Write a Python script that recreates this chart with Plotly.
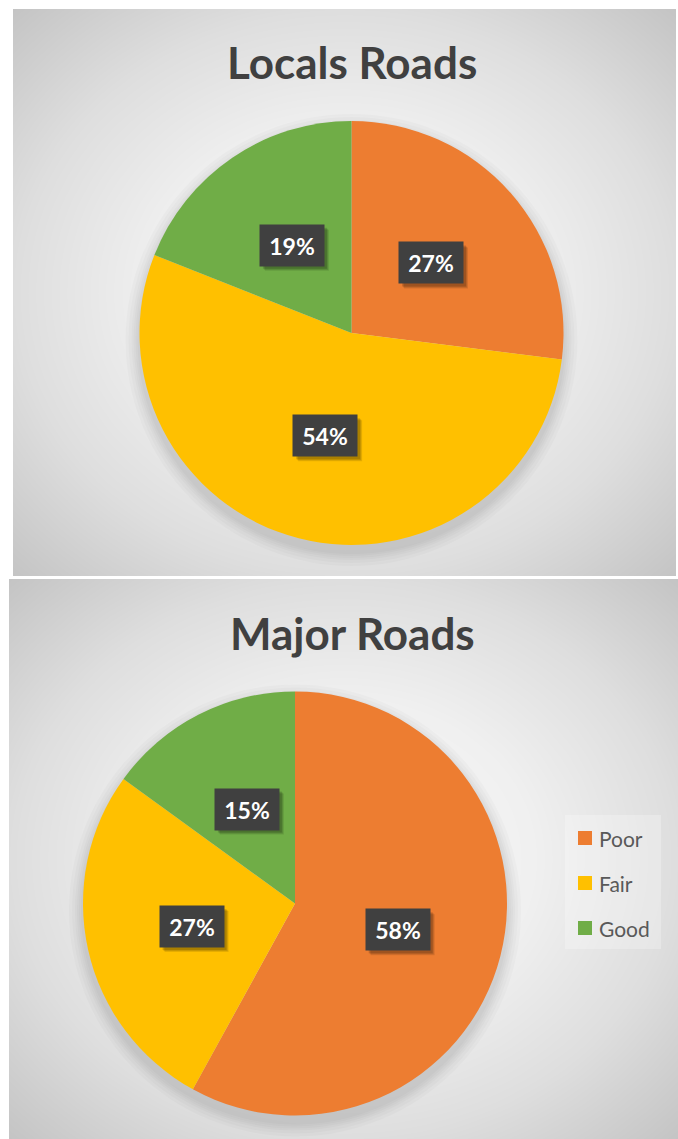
import numpy as np
import plotly.graph_objects as go

# ---------------- data ----------------
categories = ["Poor", "Fair", "Good"]
local_values = [27, 54, 19]
major_values = [58, 27, 15]
chart_titles = ["Locals Roads", "Major Roads"]
slice_colors = ["#ED7D31", "#FFC000", "#70AD47"]

# ---------------- layout constants (pixels) ----------------
W, H = 678, 1139
panels = [  # x0, y0, x1, y1 in px (top-left origin)
    (13, 9, 676, 576),
    (9, 579, 678, 1139),
]
pie_centers = [(351.5, 333.0), (295.0, 903.5)]
pie_radius = 212.0
title_pos = [(352, 62), (352, 633)]


def px(x):
    return x / W


def py(y):
    return 1 - y / H


fig = go.Figure()

# --- panel backgrounds: radial gradient via heatmap ---
grid = np.linspace(0, 1, 61)
gx, gy = np.meshgrid(grid, grid)
zgrad = np.sqrt(((gx - 0.5) / 0.5) ** 2 + ((gy - 0.5) / 0.5) ** 2) / np.sqrt(2)
grad_scale = [[0, "#f8f8f8"], [0.4, "#f0f0f0"], [0.7, "#dedede"], [1, "#c4c4c4"]]
for i, (x0, y0, x1, y1) in enumerate(panels):
    ax = "" if i == 0 else str(i + 1)
    fig.add_trace(go.Heatmap(x=grid, y=grid, z=zgrad, zmin=0, zmax=1, colorscale=grad_scale,
                             showscale=False, zsmooth="best", hoverinfo="skip",
                             xaxis="x" + ax, yaxis="y" + ax))
    fig.update_layout(**{
        "xaxis" + ax: dict(domain=[px(x0), px(x1)], range=[0, 1], visible=False, fixedrange=True),
        "yaxis" + ax: dict(domain=[py(y1), py(y0)], range=[0, 1], visible=False, fixedrange=True),
    })

# --- pies ---
annotations = []
shapes = []
for i, vals in enumerate([local_values, major_values]):
    cx, cy = pie_centers[i]
    R = pie_radius
    # soft blurred shadow under pie
    for grow in [14, 11, 8, 6, 4, 2]:
        off = 7
        fig.add_trace(go.Pie(values=[1], marker=dict(colors=["rgba(0,0,0,0.018)"], line=dict(width=0)),
                             textinfo="none", hoverinfo="skip", showlegend=False, sort=False,
                             domain=dict(x=[px(cx - R - grow), px(cx + R + grow)],
                                         y=[py(cy + off + R + grow), py(cy + off - R - grow)])))
    fig.add_trace(go.Pie(
        labels=categories, values=vals, sort=False, direction="clockwise", rotation=0,
        marker=dict(colors=slice_colors, line=dict(width=0)),
        textinfo="none", showlegend=False,
        domain=dict(x=[px(cx - R), px(cx + R)], y=[py(cy + R), py(cy - R)]),
    ))
    total = float(sum(vals))
    cum = 0.0
    for v in vals:
        mid = (cum + v / 2) / total * 2 * np.pi
        cum += v
        lx = cx + 0.5 * R * np.sin(mid)
        ly = cy - 0.5 * R * np.cos(mid)
        txt = f"{round(v / total * 100)}%"
        # box shadow
        for s, a in [(5, 0.10), (4, 0.12), (3, 0.15)]:
            shapes.append(dict(type="rect", xref="paper", yref="paper", layer="above",
                               x0=px(lx - 32 + s), x1=px(lx + 32 + s), y0=py(ly + 20.5 + s), y1=py(ly - 20.5 + s),
                               fillcolor=f"rgba(0,0,0,{a})", line=dict(width=0)))
        annotations.append(dict(text=txt, x=px(lx), y=py(ly), xref="paper", yref="paper", showarrow=False,
                                xanchor="center", yanchor="middle", width=56, height=33, borderpad=4,
                                bgcolor="#404040",
                                font=dict(family="Lato", size=23, color="white", weight="bold")))

# --- titles ---
for (tx, ty), t in zip(title_pos, chart_titles):
    annotations.append(dict(text=t, x=px(tx), y=py(ty), xref="paper", yref="paper",
                            showarrow=False, xanchor="center", yanchor="middle",
                            font=dict(family="Lato", size=44, color="#404040", weight="bold")))

# --- legend (bottom panel) ---
shapes.append(dict(type="rect", xref="paper", yref="paper", x0=px(565), x1=px(661), y0=py(949), y1=py(815),
                   fillcolor="rgba(255,255,255,0.25)", line=dict(width=0), layer="above"))
leg_y = [838, 883, 928]
for c, lab, yy in zip(slice_colors, categories, leg_y):
    shapes.append(dict(type="rect", xref="paper", yref="paper", x0=px(578), x1=px(592),
                       y0=py(yy + 7), y1=py(yy - 7), fillcolor=c, line=dict(width=0), layer="above"))
    annotations.append(dict(text=lab, x=px(597), y=py(yy), xref="paper", yref="paper", showarrow=False,
                            xanchor="left", yanchor="middle",
                            font=dict(family="Lato", size=21, color="#595959")))

fig.update_layout(width=W, height=H, margin=dict(l=0, r=0, t=0, b=0),
                  paper_bgcolor="white", plot_bgcolor="white", showlegend=False,
                  annotations=annotations, shapes=shapes)

fig.write_html("out.html", config={"displayModeBar": False},
               post_script="document.body.style.margin='0px';document.body.style.overflow='hidden';")
